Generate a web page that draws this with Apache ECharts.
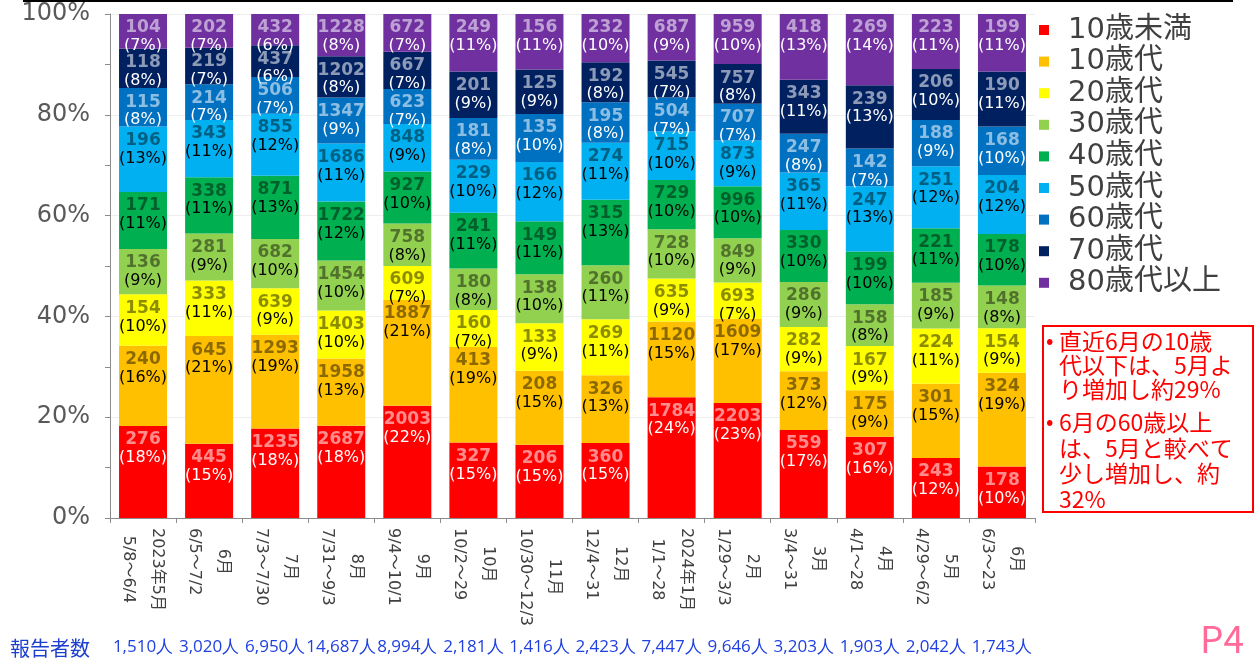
<!DOCTYPE html>
<html lang="ja">
<head>
<meta charset="utf-8">
<title>年代別 報告者数の推移</title>
<script src="https://cdn.jsdelivr.net/npm/echarts@6/dist/echarts.min.js"></script>
<style>
  html, body { margin: 0; padding: 0; background: #ffffff; }
  #chart { width: 1258px; height: 661px; }
</style>
</head>
<body>
<div id="chart"></div>
<script>
// Reporting periods (two-line category labels)
const monthLabels = ['2023年5月', '6月', '7月', '8月', '9月', '10月', '11月', '12月',
                     '2024年1月', '2月', '3月', '4月', '5月', '6月'];
const periodLabels = ['5/8～6/4', '6/5～7/2', '7/3～7/30', '7/31～9/3', '9/4～10/1', '10/2～29',
                      '10/30～12/3', '12/4～31', '1/1～28', '1/29～3/3', '3/4～31', '4/1～28',
                      '4/29～6/2', '6/3～23'];

// Age groups, bottom of the stack first
const ageGroups = ['10歳未満', '10歳代', '20歳代', '30歳代', '40歳代', '50歳代', '60歳代', '70歳代', '80歳代以上'];

// Number of reported cases per age group and period
const under10   = [276, 445, 1235, 2687, 2003, 327, 206, 360, 1784, 2203, 559, 307, 243, 178];
const age10s    = [240, 645, 1293, 1958, 1887, 413, 208, 326, 1120, 1609, 373, 175, 301, 324];
const age20s    = [154, 333, 639, 1403, 609, 160, 133, 269, 635, 693, 282, 167, 224, 154];
const age30s    = [136, 281, 682, 1454, 758, 180, 138, 260, 728, 849, 286, 158, 185, 148];
const age40s    = [171, 338, 871, 1722, 927, 241, 149, 315, 729, 996, 330, 199, 221, 178];
const age50s    = [196, 343, 855, 1686, 848, 229, 166, 274, 715, 873, 365, 247, 251, 204];
const age60s    = [115, 214, 506, 1347, 623, 181, 135, 195, 504, 707, 247, 142, 188, 168];
const age70s    = [118, 219, 437, 1202, 667, 201, 125, 192, 545, 757, 343, 239, 206, 190];
const age80plus = [104, 202, 432, 1228, 672, 249, 156, 232, 687, 959, 418, 269, 223, 199];

const countsByGroup = [under10, age10s, age20s, age30s, age40s, age50s, age60s, age70s, age80plus];

// Y axis tick values (percent)
const yTicks = [0, 20, 40, 60, 80, 100];

// Styling per age group
const barColors = ['#ff0000', '#ffc000', '#ffff00', '#92d050', '#00b050', '#00b0f0', '#0070c0', '#002060', '#7030a0'];
const lightText = [true, false, false, false, false, false, true, true, true];

const FONT = "'DejaVu Sans', 'Noto Sans CJK JP', sans-serif";
const JP_FONT = "Noto Sans CJK JP";

// Totals per period
const totals = monthLabels.map((_, i) => countsByGroup.reduce((s, arr) => s + arr[i], 0));
const withCommas = n => String(n).replace(/\B(?=(\d{3})+(?!\d))/g, ',');

const series = ageGroups.map((name, g) => {
  const counts = countsByGroup[g];
  const light = lightText[g];
  return {
    name: name,
    type: 'bar',
    stack: 'share',
    barWidth: 48,
    xAxisIndex: 0,
    itemStyle: { color: barColors[g] },
    data: counts.map((c, i) => c / totals[i] * 100),
    label: {
      show: true,
      position: 'insideTop',
      distance: 5,
      formatter: p => `{c|${counts[p.dataIndex]}}\n{p|(${Math.round(p.value)}%)}`,
      rich: {
        c: {
          fontFamily: FONT, fontSize: 17, fontWeight: 'bold', lineHeight: 18,
          color: light ? 'rgba(255,255,255,0.55)' : 'rgba(0,0,0,0.45)', align: 'center'
        },
        p: {
          fontFamily: FONT, fontSize: 16, lineHeight: 18,
          color: light ? '#ffffff' : '#000000', align: 'center'
        }
      }
    }
  };
});

const chart = echarts.init(document.getElementById('chart'), null, { renderer: 'canvas' });

chart.setOption({
  animation: false,
  backgroundColor: '#ffffff',
  textStyle: { fontFamily: FONT },
  grid: { left: 110, right: 223, top: 14, bottom: 143, containLabel: false },
  legend: {
    orient: 'vertical',
    left: 1034,
    top: 10,
    icon: 'rect',
    itemWidth: 10,
    itemHeight: 10,
    itemGap: 1.6,
    data: ageGroups,
    textStyle: { fontFamily: FONT, fontSize: 29, lineHeight: 30, color: '#404040', padding: [0, 0, 0, 14] }
  },
  xAxis: [
    {
      type: 'category',
      data: monthLabels.map((_, i) => String(i)),
      axisLine: { lineStyle: { color: '#8c8c8c', width: 1 } },
      axisTick: { show: true, length: 5, lineStyle: { color: '#8c8c8c' } },
      axisLabel: {
        interval: 0,
        rotate: -90,
        margin: 10,
        formatter: (v, i) => `{a|${monthLabels[i]}}\n{a|${periodLabels[i]}}`,
        rich: {
          a: { fontFamily: FONT, fontSize: 16, lineHeight: 29, color: '#404040', align: 'center' }
        }
      }
    },
    {
      // reporter totals shown under each period
      type: 'category',
      position: 'bottom',
      offset: 113,
      data: totals.map(t => withCommas(t) + '人'),
      axisLine: { show: false },
      axisTick: { show: false },
      axisLabel: {
        interval: 0,
        margin: 8,
        fontFamily: 'Open Sans',
        fontWeight: 'normal',
        fontSize: 17,
        color: '#2040e0'
      }
    }
  ],
  yAxis: {
    type: 'value',
    min: yTicks[0],
    max: yTicks[yTicks.length - 1],
    interval: yTicks[1] - yTicks[0],
    axisLine: { show: true, lineStyle: { color: '#8c8c8c' } },
    axisTick: { show: true, length: 5, lineStyle: { color: '#8c8c8c' } },
    minorTick: { show: true, splitNumber: 2, length: 5, lineStyle: { color: '#8c8c8c' } },
    splitLine: { show: true, lineStyle: { color: '#eeeeee' } },
    axisLabel: { formatter: '{value}%', fontFamily: FONT, fontSize: 24, color: '#595959', margin: 20 }
  },
  series: series,
  graphic: [
    { type: 'line', shape: { x1: 23, y1: 1, x2: 1233, y2: 1 }, style: { stroke: '#000000', lineWidth: 2 }, z: 10 },
    { type: 'rect', shape: { x: 1043, y: 326, width: 210, height: 186 }, style: { fill: '#ffffff', stroke: '#ff0000', lineWidth: 2 }, z: 10 },
    { type: 'text', x: 1046, y: 329, z: 11, style: { text: '•', font: `22px '${JP_FONT}'`, fill: '#ff0000' } },
    { type: 'text', x: 1059, y: 329, z: 11, style: { text: '直近6月の10歳\n代以下は、5月よ\nり増加し約29%', font: `23px '${JP_FONT}'`, lineHeight: 24, fill: '#ff0000' } },
    { type: 'text', x: 1046, y: 410, z: 11, style: { text: '•', font: `22px '${JP_FONT}'`, fill: '#ff0000' } },
    { type: 'text', x: 1059, y: 410, z: 11, style: { text: '6月の60歳以上\nは、5月と較べて\n少し増加し、約\n32%', font: `23px '${JP_FONT}'`, lineHeight: 25.5, fill: '#ff0000' } },
    { type: 'text', x: 10, y: 638, z: 11, style: { text: '報告者数', font: `20px '${JP_FONT}'`, fill: '#1c3fd0' } },
    { type: 'text', x: 1200, y: 620, z: 11, style: { text: 'P4', font: `37px '${JP_FONT}'`, fill: '#ff6a98' } }
  ]
});
</script>
</body>
</html>
